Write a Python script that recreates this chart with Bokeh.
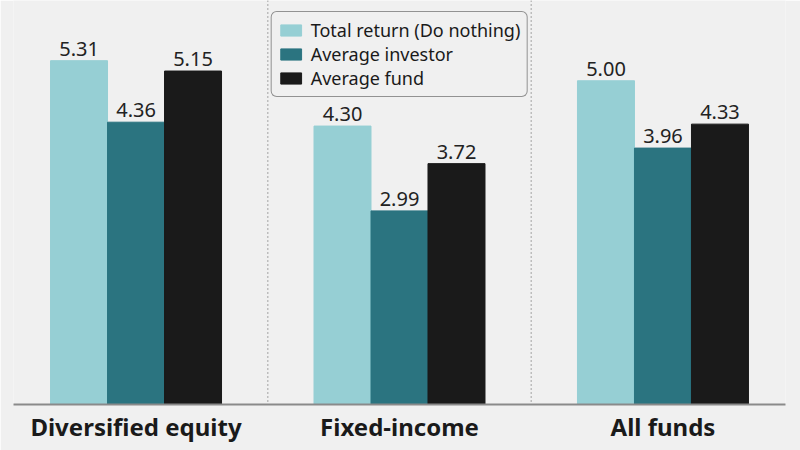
from bokeh.plotting import figure
from bokeh.models import FactorRange, Range1d, Span, ColumnDataSource
from bokeh.transform import dodge
from bokeh.core.properties import value
from bokeh.embed import file_html
from bokeh.resources import INLINE

categories = ["Diversified equity", "Fixed-income", "All funds"]
series_names = ["Total return (Do nothing)", "Average investor", "Average fund"]
total_return = [5.31, 4.30, 5.00]
average_investor = [4.36, 2.99, 3.96]
average_fund = [5.15, 3.72, 4.33]
colors = ["#96cfd4", "#2b7480", "#1a1a1a"]

FONT = "Noto Sans"
PX_PER_UNIT = 64.75
FRAME_H = 404

source = ColumnDataSource(dict(
    cat=categories,
    s0=total_return, s1=average_investor, s2=average_fund,
    l0=[f"{v:.2f}" for v in total_return],
    l1=[f"{v:.2f}" for v in average_investor],
    l2=[f"{v:.2f}" for v in average_fund],
))

p = figure(
    x_range=FactorRange(*categories, range_padding=-0.0233),
    y_range=Range1d(0, FRAME_H / PX_PER_UNIT),
    width=800, height=450,
    output_backend="svg", toolbar_location=None,
    y_axis_location=None,
    min_border_left=13, min_border_right=15, min_border_top=0, min_border_bottom=46,
    background_fill_color="#f0f0f0", border_fill_color="#f0f0f0",
    outline_line_color=None,
)
p.grid.visible = False

bw = 57 / 263.5
offsets = [-bw, 0, bw]
for i, (name, col) in enumerate(zip(series_names, colors)):
    p.vbar(x=dodge("cat", offsets[i], range=p.x_range), top=f"s{i}", width=bw,
           source=source, fill_color=col, line_color=col, legend_label=name)
    p.text(x=dodge("cat", offsets[i], range=p.x_range), y=f"s{i}", text=f"l{i}",
           source=source, text_align="center", text_baseline="bottom", y_offset=-5,
           text_font=value(FONT), text_font_size="20px", text_color="#222222")

for loc in [1.0, 2.0]:
    p.add_layout(Span(location=loc, dimension="height", line_color="#8a8a8a",
                      line_width=1.5, line_dash="1 3"))

ax = p.xaxis[0]
ax.axis_line_color = "#8a8a8a"
ax.axis_line_width = 2
ax.major_tick_line_color = None
ax.major_tick_out = 0
ax.major_tick_in = 0
ax.minor_tick_line_color = None
ax.major_label_standoff = 5
ax.major_label_text_font = FONT
ax.major_label_text_font_size = "24px"
ax.major_label_text_font_style = "bold"
ax.major_label_text_color = "#1a1a1a"

lg = p.legend[0]
lg.location = "top_center"
lg.margin = 11
lg.padding = 6
lg.spacing = 0
lg.label_height = 22
lg.label_text_line_height = 1.0
lg.glyph_width = 26
lg.glyph_height = 14
lg.label_standoff = 7
lg.label_text_font = FONT
lg.label_text_font_size = "18px"
lg.label_text_color = "#1a1a1a"
lg.border_line_color = "#333333"
lg.border_line_width = 1.2
lg.background_fill_color = "#f0f0f0"
lg.background_fill_alpha = 1
lg.border_radius = 6

open("out.html", "w").write(file_html(p, INLINE))
